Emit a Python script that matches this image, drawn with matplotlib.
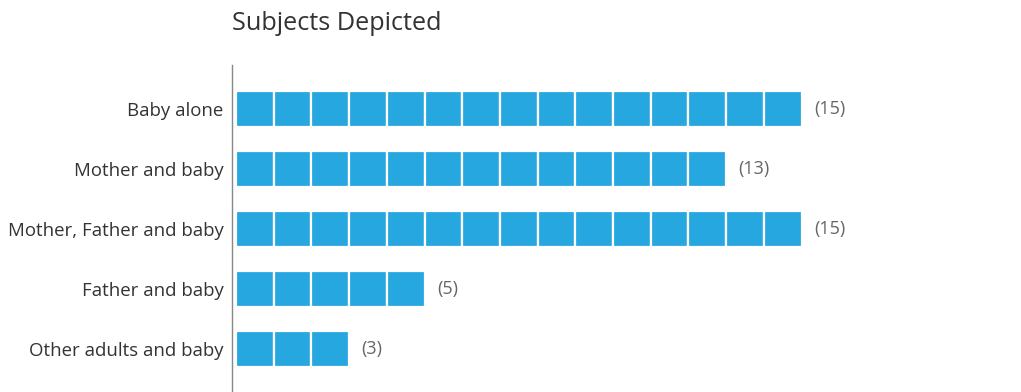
import matplotlib.pyplot as plt

# data
categories = ["Baby alone", "Mother and baby", "Mother, Father and baby",
              "Father and baby", "Other adults and baby"]
counts = [15, 13, 15, 5, 3]
title = "Subjects Depicted"

bar_color = "#27a7e0"

plt.rcParams['font.family'] = ['Open Sans', 'DejaVu Sans']

fig = plt.figure(figsize=(10.21, 3.92), dpi=100)
# axes placed in pixels: left edge is the vertical line at x=232, top at y=65
ax = fig.add_axes([232 / 1021, 0, 1 - 232 / 1021, (392 - 65) / 392])

# one square per unit, white gaps between
for i, n in enumerate(counts):
    for j in range(n):
        ax.barh(i, 1, left=j, height=0.6, color=bar_color,
                edgecolor="white", linewidth=1.6)
    ax.text(n + 0.33, i, "(%d)" % n, va="center", ha="left",
            fontsize=13, color="#666666")

ax.set_xlim(-0.106, 20.82)
ax.set_ylim(4.717, -0.733)

ax.set_yticks(range(len(categories)))
ax.set_yticklabels(categories, fontsize=13.4, color="#333333")
ax.tick_params(axis="y", length=0, pad=6)
ax.set_xticks([])

for s in ["top", "right", "bottom"]:
    ax.spines[s].set_visible(False)
ax.spines["left"].set_color("#888888")
ax.spines["left"].set_linewidth(1.0)

fig.text(232 / 1021, 1 - 24 / 392, title, fontsize=18.2, color="#333333",
         ha="left", va="center")

fig.savefig("out.png", dpi=100)
